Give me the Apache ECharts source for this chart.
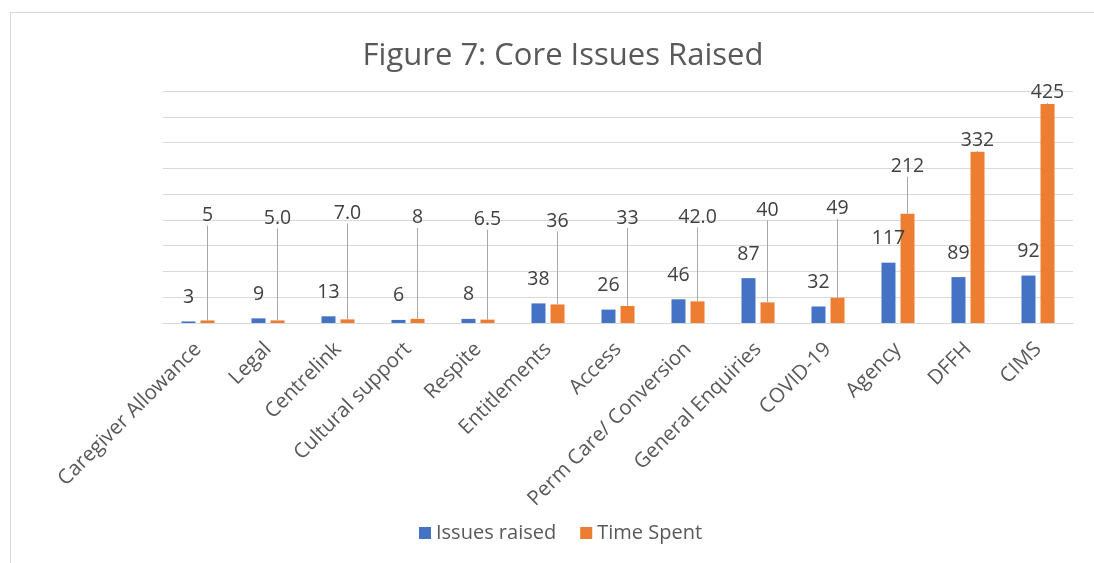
<!DOCTYPE html>
<html>
<head>
<meta charset="utf-8">
<script src="https://cdn.jsdelivr.net/npm/echarts@6/dist/echarts.min.js"></script>
<style>
html,body{margin:0;padding:0;background:#fff;}
#frame{position:absolute;left:10px;top:12px;width:1100px;height:560px;border-top:1px solid #d9d9d9;border-left:1px solid #d9d9d9;}
#chart{position:absolute;left:0;top:0;width:1094px;height:563px;}
</style>
</head>
<body>
<div id="frame"></div>
<div id="chart"></div>
<script>
var categories = ['Caregiver Allowance','Legal','Centrelink','Cultural support','Respite','Entitlements','Access','Perm Care/ Conversion','General Enquiries','COVID-19','Agency','DFFH','CIMS'];
var issuesRaised = [3, 9, 13, 6, 8, 38, 26, 46, 87, 32, 117, 89, 92];
var timeSpent = [5, 5.0, 7.0, 8, 6.5, 36, 33, 42.0, 40, 49, 212, 332, 425];
var timeSpentLabels = ['5','5.0','7.0','8','6.5','36','33','42.0','40','49','212','332','425'];
var yTicks = [0, 50, 100, 150, 200, 250, 300, 350, 400, 450];

// label lift (pixels above bar top) for Time Spent labels — styling only
var timeLift = [105, 102, 106, 101, 100, 83, 88, 84, 92, 89, 47, 24, 11];

var chart = echarts.init(document.getElementById('chart'), null, {renderer:'canvas'});
var FONT = '"Open Sans", sans-serif';
chart.setOption({
  animation: false,
  title: {
    text: 'Figure 7: Core Issues Raised',
    left: 558, top: 36, textAlign: 'center',
    textStyle: {fontFamily: FONT, fontSize: 31, fontWeight: 'normal', color: '#595959'}
  },
  legend: {
    data: ['Issues raised','Time Spent'],
    left: 419, top: 523,
    icon: 'rect', itemWidth: 12, itemHeight: 12, itemGap: 24, padding: 0,
    textStyle: {fontFamily: FONT, fontSize: 20, color: '#595959'}
  },
  grid: {left: 163, right: 21, top: 91, bottom: 240, containLabel: false},
  xAxis: {
    type: 'category', data: categories,
    axisLine: {lineStyle: {color: '#d9d9d9'}},
    axisTick: {show: false},
    axisLabel: {rotate: 45, interval: 0, margin: 23, fontFamily: FONT, fontSize: 20.5, color: '#595959'}
  },
  yAxis: {
    type: 'value', min: yTicks[0], max: yTicks[yTicks.length-1], interval: yTicks[1]-yTicks[0],
    axisLabel: {show: false}, axisLine: {show: false}, axisTick: {show: false},
    splitLine: {lineStyle: {color: '#d9d9d9'}}
  },
  series: [
    {
      name: 'Issues raised', type: 'bar', data: issuesRaised,
      barWidth: 14, barGap: '36%',
      itemStyle: {color: '#4472C4'},
      label: {show: true, position: 'top', distance: 14, fontFamily: FONT, fontSize: 19.5, color: '#404040'}
    },
    {
      name: 'Time Spent', type: 'bar', data: timeSpent,
      barWidth: 14,
      itemStyle: {color: '#ED7D31'},
      label: {show: true, position: 'top', distance: 1, fontFamily: FONT, fontSize: 19.5, color: '#404040',
        formatter: function(p){ return timeSpentLabels[p.dataIndex]; }},
      labelLine: {show: true, lineStyle: {color: '#a6a6a6', width: 1}},
      labelLayout: function(p){
        var lift = timeLift[p.dataIndex];
        var d = lift - 11;
        if (d < 20) return {dy: 0};
        return {dy: -d};
      }
    }
  ]
});
</script>
</body>
</html>
